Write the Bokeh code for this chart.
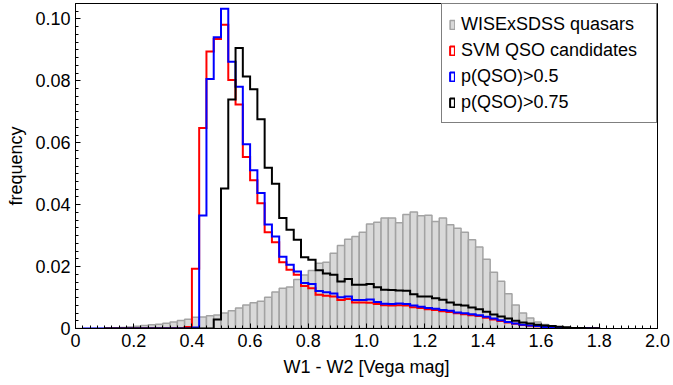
import numpy as np
from bokeh.plotting import figure
from bokeh.models import FixedTicker, Legend, LegendItem, Range1d
from bokeh.embed import file_html
from bokeh.resources import INLINE

nan = float("nan")

# bins: W1-W2 from 0 to 2 in steps of 0.025
bin_edges = np.linspace(0.0, 2.0, 81)

wise_sdss_quasars = [
    0.0, 0.0, 0.0001, 0.0001, 0.0001,
    0.0002, 0.0003, 0.0005, 0.0007, 0.0010,
    0.0012, 0.0014, 0.0017, 0.0021, 0.0026,
    0.0030, 0.0036, 0.0037, 0.0041, 0.0044,
    0.0050, 0.0057, 0.0066, 0.0076, 0.0083,
    0.0088, 0.0101, 0.0118, 0.0130, 0.0134,
    0.0158, 0.0173, 0.0187, 0.0211, 0.0214,
    0.0243, 0.0268, 0.0288, 0.0297, 0.0311,
    0.0338, 0.0343, 0.0357, 0.0357, 0.0342,
    0.0368, 0.0376, 0.0364, 0.0366, 0.0346,
    0.0357, 0.0335, 0.0324, 0.0311, 0.0287,
    0.0263, 0.0224, 0.0182, 0.0153, 0.0112,
    0.0076, 0.0050, 0.0034, 0.0021, 0.0013,
    0.0009, 0.0005, 0.0003, 0.0002, 0.0001,
    0.0001, 0.0001, nan, nan, nan,
    nan, nan, nan, nan, nan,
]

svm_qso_candidates = [
    nan, nan, nan, nan,
    0.0, 0.0, 0.0, 0.0, 0.0, 0.0, 0.0, 0.0, 0.0, 0.0, 0.0,
    0.0005,
    0.0193, 0.0648, 0.0895, 0.0935, 0.0981,
    0.0803, 0.0724, 0.0554, 0.0479, 0.0405,
    0.0311, 0.0279, 0.0214, 0.0190, 0.0174,
    0.0137, 0.0130, 0.0109, 0.0106, 0.0103,
    0.0092, 0.0095, 0.0084, 0.0084, 0.0083,
    0.0079, 0.0075, 0.0074, 0.0075, 0.0074,
    0.0069, 0.0066, 0.0062, 0.0060, 0.0056,
    0.0053, 0.0049, 0.0046, 0.0043, 0.0040,
    0.0035, 0.0029, 0.0024, 0.0019, 0.0015,
    0.0011, 0.0009, 0.0007, 0.0005, 0.0003,
    0.0002, 0.0002, 0.0001, 0.0001, 0.0001,
    0.0,
    nan, nan, nan, nan, nan, nan, nan, nan,
]

p_qso_05 = [
    nan,
    0.0, 0.0, 0.0, 0.0, 0.0, 0.0, 0.0, 0.0, 0.0, 0.0, 0.0, 0.0, 0.0, 0.0, 0.0,
    0.0003,
    0.0365, 0.0806, 0.0941, 0.1033,
    0.0862, 0.0781, 0.0595, 0.0511, 0.0438,
    0.0336, 0.0297, 0.0232, 0.0206, 0.0184,
    0.0147, 0.0144, 0.0121, 0.0117, 0.0113,
    0.0101, 0.0103, 0.0092, 0.0092, 0.0094,
    0.0086, 0.0080, 0.0079, 0.0081, 0.0079,
    0.0074, 0.0070, 0.0066, 0.0064, 0.0060,
    0.0057, 0.0052, 0.0049, 0.0046, 0.0043,
    0.0038, 0.0032, 0.0027, 0.0021, 0.0016,
    0.0012, 0.0010, 0.0008, 0.0005, 0.0004,
    0.0002, 0.0002, 0.0001, 0.0001, 0.0001,
    0.0,
    nan, nan, nan, nan, nan, nan, nan, nan,
]

p_qso_075 = [
    nan, nan, nan, nan,
    0.0, 0.0, 0.0, 0.0, 0.0, 0.0, 0.0, 0.0, 0.0, 0.0, 0.0, 0.0, 0.0, 0.0, 0.0,
    0.0029,
    0.0452, 0.0740, 0.0906, 0.0814, 0.0773,
    0.0676, 0.0519, 0.0468, 0.0357, 0.0319,
    0.0287, 0.0230, 0.0222, 0.0188, 0.0178,
    0.0174, 0.0152, 0.0160, 0.0141, 0.0141,
    0.0144, 0.0133, 0.0125, 0.0124, 0.0123,
    0.0122, 0.0111, 0.0103, 0.0103, 0.0098,
    0.0093, 0.0084, 0.0077, 0.0074, 0.0068,
    0.0062, 0.0054, 0.0045, 0.0039, 0.0032,
    0.0025, 0.0019, 0.0016, 0.0012, 0.0010,
    0.0008, 0.0006, 0.0004, 0.0002, 0.0002,
    0.0001, 0.0001,
    nan, nan, nan, nan, nan, nan, nan, nan,
]

series_labels = ["WISExSDSS quasars", "SVM QSO candidates", "p(QSO)>0.5", "p(QSO)>0.75"]
x_ticks = [0.0, 0.2, 0.4, 0.6, 0.8, 1.0, 1.2, 1.4, 1.6, 1.8, 2.0]
x_tick_labels = ["0", "0.2", "0.4", "0.6", "0.8", "1.0", "1.2", "1.4", "1.6", "1.8", "2.0"]
y_ticks = [0.0, 0.02, 0.04, 0.06, 0.08, 0.10]
y_tick_labels = ["0", "0.02", "0.04", "0.06", "0.08", "0.10"]

FONT = "Liberation Sans"
FS = "18px"


def step_xy(vals):
    v = np.array(vals, dtype=float)
    idx = np.where(~np.isnan(v))[0]
    a, b = idx[0], idx[-1]
    xs = [bin_edges[a]]
    ys = [0.0]
    for i in range(a, b + 1):
        xs += [bin_edges[i], bin_edges[i + 1]]
        ys += [v[i], v[i]]
    xs.append(bin_edges[b + 1])
    ys.append(0.0)
    return xs, ys


p = figure(width=673, height=385, x_range=Range1d(0, 2), y_range=Range1d(0, 0.105),
           output_backend="svg", toolbar_location=None,
           min_border_left=75, min_border_right=16, min_border_top=3, min_border_bottom=57)
p.background_fill_color = "white"
p.border_fill_color = "white"
p.outline_line_color = "black"
p.outline_line_width = 1
p.xgrid.grid_line_color = None
p.ygrid.grid_line_color = None

# gray histogram
g = np.array(wise_sdss_quasars, dtype=float)
mask = ~np.isnan(g)
gray_r = p.quad(left=bin_edges[:-1][mask], right=bin_edges[1:][mask], bottom=0, top=g[mask],
                fill_color="#d9d9d9", line_color="#a3a3a3", line_width=1.5)

colors = ["#ff0000", "#0000ff", "#000000"]
proxies = []
placeholder = np.array([np.nan])
for vals, col in zip([svm_qso_candidates, p_qso_05, p_qso_075], colors):
    xs, ys = step_xy(vals)
    p.line(xs, ys, line_color=col, line_width=2, line_join="miter")
    # legend-only proxy (not drawn: NaN placeholder)
    proxies.append(p.quad(left=placeholder, right=placeholder, top=placeholder, bottom=placeholder,
                          fill_alpha=0, line_color=col, line_width=2))

# axes
p.xaxis.ticker = FixedTicker(ticks=x_ticks, minor_ticks=list(np.round(np.arange(0, 2.0001, 0.025), 4)))
p.yaxis.ticker = FixedTicker(ticks=y_ticks, minor_ticks=list(np.round(np.arange(0, 0.1051, 0.0025), 5)))
p.xaxis.major_label_overrides = dict(zip(x_ticks, x_tick_labels))
p.yaxis.major_label_overrides = dict(zip(y_ticks, y_tick_labels))
for ax in (p.xaxis[0], p.yaxis[0]):
    ax.major_tick_in = 5
    ax.major_tick_out = 0
    ax.minor_tick_in = 3
    ax.minor_tick_out = 0
    ax.axis_line_color = "black"
    ax.major_tick_line_color = "black"
    ax.minor_tick_line_color = "black"
    ax.major_label_text_font = FONT
    ax.major_label_text_font_size = FS
    ax.major_label_text_color = "black"
    ax.axis_label_text_font = FONT
    ax.axis_label_text_font_size = FS
    ax.axis_label_text_font_style = "normal"
    ax.axis_label_text_color = "black"
    ax.major_label_standoff = 5
p.xaxis.axis_label = "W1 - W2 [Vega mag]"
p.yaxis.axis_label = "frequency"
p.xaxis.axis_label_standoff = 7
p.yaxis.axis_label_standoff = 6

legend = Legend(items=[LegendItem(label=series_labels[0], renderers=[gray_r]),
                       LegendItem(label=series_labels[1], renderers=[proxies[0]]),
                       LegendItem(label=series_labels[2], renderers=[proxies[1]]),
                       LegendItem(label=series_labels[3], renderers=[proxies[2]])],
                location="top_right")
legend.margin = 0
legend.padding = 7
legend.spacing = 0
legend.label_height = 26
legend.label_width = 188
legend.glyph_width = 6
legend.glyph_height = 11
legend.label_standoff = 6
legend.label_text_font = FONT
legend.label_text_font_size = FS
legend.label_text_color = "black"
legend.border_line_color = "black"
legend.border_line_width = 1
legend.background_fill_color = "white"
legend.background_fill_alpha = 1.0
p.add_layout(legend)

open("out.html", "w").write(file_html(p, INLINE))
